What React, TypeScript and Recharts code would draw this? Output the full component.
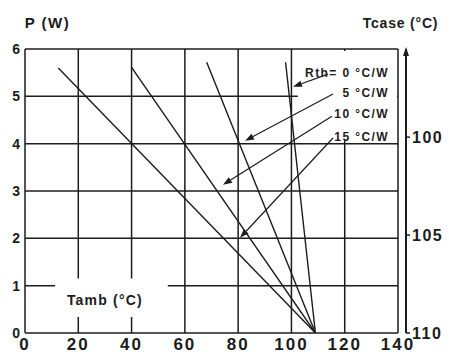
import React from "react";
import {
  LineChart,
  Line,
  XAxis,
  YAxis,
  ReferenceLine,
  ReferenceArea,
  ReferenceDot,
  Label,
} from "recharts";

// axis ticks
const tambTicks = [0, 20, 40, 60, 80, 100, 120, 140];
const powerTicks = [0, 1, 2, 3, 4, 5, 6];
const tcaseTicks = [100, 105, 110];

// derating lines, P (W) vs Tamb (°C), one per thermal resistance
const rth15 = [
  { tamb: 12.5, p: 5.6 },
  { tamb: 109, p: 0 },
];
const rth10 = [
  { tamb: 40, p: 5.61 },
  { tamb: 109, p: 0 },
];
const rth5 = [
  { tamb: 68.2, p: 5.72 },
  { tamb: 109, p: 0 },
];
const rth0 = [
  { tamb: 97.8, p: 5.72 },
  { tamb: 109, p: 0 },
];

// callouts: text, where the text sits, where the arrow starts and ends
const rthLabels = ["Rth= 0 °C/W", "5 °C/W", "10 °C/W", "15 °C/W"];
const rthLabelX = 136.6;
const rthLabelP = [5.5, 5.07, 4.63, 4.15];
const arrowFrom = [
  { x: 113.7, y: 5.47 },
  { x: 115.6, y: 5.05 },
  { x: 115.2, y: 4.58 },
  { x: 115.6, y: 4.12 },
];
const arrowTo = [
  { x: 100.6, y: 5.2 },
  { x: 82.6, y: 4.06 },
  { x: 74.3, y: 3.13 },
  { x: 80.7, y: 2.01 },
];

const INK = "#1c1c1c";
const FONT = "'Liberation Sans', Arial, sans-serif";

const ArrowShape = (props: any) => {
  const { x1, y1, x2, y2 } = props;
  const a = Math.atan2(y2 - y1, x2 - x1);
  const len = 9;
  const half = 3.2;
  const bx = x2 - len * Math.cos(a);
  const by = y2 - len * Math.sin(a);
  const px = -Math.sin(a) * half;
  const py = Math.cos(a) * half;
  return (
    <g>
      <line x1={x1} y1={y1} x2={bx} y2={by} stroke={INK} strokeWidth={1.2} />
      <polygon
        points={`${x2},${y2} ${bx + px},${by + py} ${bx - px},${by - py}`}
        fill={INK}
      />
    </g>
  );
};

const textShape =
  (text: string, anchor: "start" | "middle" | "end", size: number, spacing: number) =>
  (props: any) =>
    (
      <text
        x={props.cx}
        y={props.cy}
        textAnchor={anchor}
        dominantBaseline="central"
        fontFamily={FONT}
        fontWeight="bold"
        fontSize={size}
        letterSpacing={spacing}
        fill={INK}
      >
        {text}
      </text>
    );

const UpArrow = (props: any) => {
  const { cx, cy } = props;
  return <polygon points={`${cx},${cy - 2} ${cx - 3},${cy + 7} ${cx + 3},${cy + 7}`} fill={INK} />;
};

export default function App() {
  const tickFont = { fontFamily: FONT, fontWeight: "bold", fill: INK } as const;
  return (
    <div style={{ position: "absolute", left: 0, top: 0, background: "#fff" }}>
      <LineChart
        width={449}
        height={362}
        margin={{ top: 49, right: 0, bottom: 0, left: 0 }}
      >
        <XAxis
          type="number"
          dataKey="tamb"
          domain={[0, 143]}
          ticks={tambTicks}
          allowDataOverflow
          axisLine={false}
          tickLine={false}
          tickSize={0}
          tickMargin={5}
          height={29}
          tick={{ ...tickFont, fontSize: 17, letterSpacing: 2 }}
        />
        <YAxis
          yAxisId="p"
          type="number"
          domain={[0, 6]}
          ticks={powerTicks}
          allowDataOverflow
          width={25}
          axisLine={{ stroke: INK, strokeWidth: 1.5 }}
          tickLine={false}
          tickSize={0}
          tickMargin={5}
          tick={{ ...tickFont, fontSize: 14 }}
        >
          <Label
            value="P (W)"
            position="top"
            offset={21}
            dx={35}
            style={{ fontFamily: FONT, fontWeight: "bold", fontSize: 15, letterSpacing: 1.5, fill: INK }}
          />
        </YAxis>
        <YAxis
          yAxisId="tcase"
          orientation="right"
          type="number"
          domain={[95.5, 110]}
          allowDataOverflow
          reversed
          ticks={tcaseTicks}
          interval={0}
          width={43}
          axisLine={{ stroke: INK, strokeWidth: 2 }}
          tickLine={{ stroke: INK, strokeWidth: 1.5 }}
          tickSize={4}
          tickMargin={2}
          tick={{ ...tickFont, fontSize: 16, letterSpacing: 1.5 }}
        >
          <Label
            value="Tcase (°C)"
            position="top"
            offset={21}
            dx={-27}
            style={{ fontFamily: FONT, fontWeight: "bold", fontSize: 14, letterSpacing: 0.8, fill: INK }}
          />
        </YAxis>

        {/* grid and frame */}
        {powerTicks.map((p) => (
          <ReferenceLine
            key={`h${p}`}
            yAxisId="p"
            segment={[
              { x: 0, y: p },
              { x: 140, y: p },
            ]}
            stroke={INK}
            strokeWidth={1.5}
            zIndex={10}
          />
        ))}
        {tambTicks.slice(1).map((t) => (
          <ReferenceLine
            key={`v${t}`}
            yAxisId="p"
            segment={[
              { x: t, y: 0 },
              { x: t, y: 6 },
            ]}
            stroke={INK}
            strokeWidth={1.5}
            zIndex={10}
          />
        ))}

        {/* white boxes behind the captions */}
        <ReferenceArea
          yAxisId="p"
          x1={11.3}
          x2={53.6}
          y1={0.34}
          y2={1.15}
          fill="#fff"
          fillOpacity={1}
          stroke="none"
          zIndex={20}
        />
        <ReferenceArea
          yAxisId="p"
          x1={102.4}
          x2={139.6}
          y1={4.06}
          y2={5.96}
          fill="#fff"
          fillOpacity={1}
          stroke="none"
          zIndex={20}
        />

        <Line yAxisId="p" data={rth15} dataKey="p" stroke={INK} strokeWidth={1.4} dot={false} isAnimationActive={false} />
        <Line yAxisId="p" data={rth10} dataKey="p" stroke={INK} strokeWidth={1.4} dot={false} isAnimationActive={false} />
        <Line yAxisId="p" data={rth5} dataKey="p" stroke={INK} strokeWidth={1.4} dot={false} isAnimationActive={false} />
        <Line yAxisId="p" data={rth0} dataKey="p" stroke={INK} strokeWidth={1.4} dot={false} isAnimationActive={false} />

        {arrowFrom.map((f, i) => (
          <ReferenceLine
            key={`a${i}`}
            yAxisId="p"
            segment={[f, arrowTo[i]]}
            shape={ArrowShape}
            zIndex={700}
          />
        ))}
        {rthLabels.map((text, i) => (
          <ReferenceDot
            key={`l${i}`}
            yAxisId="p"
            x={rthLabelX}
            y={rthLabelP[i]}
            shape={textShape(text, "end", 12, 1.4)}
            zIndex={700}
          />
        ))}
        <ReferenceDot
          yAxisId="p"
          x={30}
          y={0.7}
          shape={textShape("Tamb (°C)", "middle", 14, 1.2)}
          zIndex={700}
        />
        <ReferenceDot
          yAxisId="p"
          x={143}
          y={6}
          ifOverflow="visible"
          shape={UpArrow}
          zIndex={700}
        />
      </LineChart>
    </div>
  );
}
